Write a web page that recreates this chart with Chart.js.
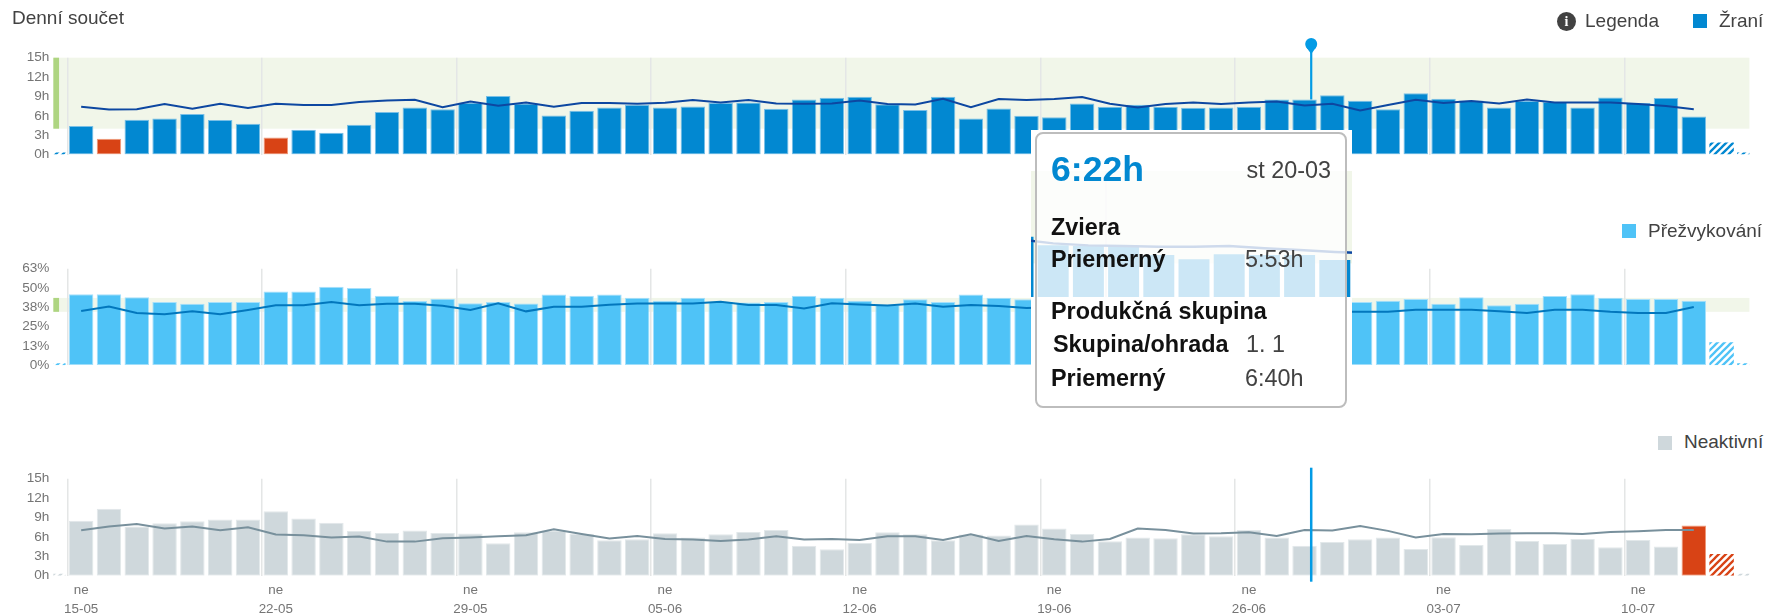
<!DOCTYPE html>
<html>
<head>
<meta charset="utf-8">
<title>Denní součet</title>
<script src="https://cdn.jsdelivr.net/npm/chart.js@4"></script>
<style>
html, body { margin: 0; padding: 0; background: #fff; }
body { width: 1766px; height: 615px; position: relative; overflow: hidden; font-family: "Liberation Sans", Arial, sans-serif; color: #424242; }
canvas { position: absolute; left: 0; }
.txt { position: absolute; white-space: nowrap; font-size: 19px; line-height: 24px; }
.sq { position: absolute; width: 14px; height: 14px; }
#info { position: absolute; left: 1557px; top: 12px; width: 19px; height: 19px; border-radius: 50%; background: #424242; color: #fff; font: bold 14px/19px "Liberation Serif", serif; text-align: center; }
#ghostBox { position: absolute; left: 1031px; top: 130px; width: 321px; height: 240px; background: #fff; overflow: hidden; }
#tip { position: absolute; left: 1035px; top: 132px; width: 308px; height: 272px; border: 2px solid #bdbdbd; border-radius: 8px; background: rgba(255,255,255,0.8); }
#tip div { position: absolute; white-space: nowrap; font-size: 23.4px; line-height: 28px; }
#tip .b { font-weight: bold; color: #111; }
#tip .v { color: #424242; left: 208px; }
</style>
</head>
<body>
<canvas id="chartZrani" width="1766" height="175" style="top:0"></canvas>
<canvas id="chartPrezvykovani" width="1766" height="150" style="top:240px"></canvas>
<canvas id="chartNeaktivni" width="1766" height="155" style="top:460px"></canvas>

<div class="txt" style="left:12px;top:6px">Denní součet</div>
<div id="info">i</div>
<div class="txt" style="left:1585px;top:9px">Legenda</div>
<div class="sq" style="left:1693px;top:14px;background:#0288d1"></div>
<div class="txt" style="left:1719px;top:9px">Žraní</div>
<div class="sq" style="left:1622px;top:224px;background:#4fc3f7"></div>
<div class="txt" style="left:1648px;top:219px">Přežvykování</div>
<div class="sq" style="left:1658px;top:436px;background:#cfd8dc"></div>
<div class="txt" style="left:1684px;top:430px">Neaktivní</div>

<div id="ghostBox"><canvas id="chartGhost" width="360" height="167" style="left:-13px;top:0"></canvas></div>
<div id="tip">
  <div style="left:14px;top:14px;font-size:35.6px;line-height:42px;font-weight:bold;color:#0288d1">6:22h</div>
  <div style="right:14px;top:22px;color:#424242">st 20-03</div>
  <div class="b" style="left:14px;top:79px">Zviera</div>
  <div class="b" style="left:14px;top:111px">Priemerný</div>
  <div class="v" style="top:111px">5:53h</div>
  <div class="b" style="left:14px;top:163px">Produkčná skupina</div>
  <div class="b" style="left:16px;top:196px">Skupina/ohrada</div>
  <div class="v" style="top:196px;left:209px">1. 1</div>
  <div class="b" style="left:14px;top:230px">Priemerný</div>
  <div class="v" style="top:230px">6:40h</div>
</div>

<script>
// first and last entry of each series are the cut-off days at the edges of the plot
var weekLabels = ['15-05', '22-05', '29-05', '05-06', '12-06', '19-06', '26-06', '03-07', '10-07'];
var dayName = 'ne';

var zrani = [0.3, 4.4, 2.43, 5.38, 5.59, 6.26, 5.33, 4.76, 2.64, 3.83, 3.36, 4.6, 6.57, 7.29, 7.03, 8.0, 9.05, 7.9, 6.05, 6.78,
    7.29, 7.7, 7.29, 7.45, 7.97, 8.07, 7.09, 8.53, 8.79, 8.95, 7.8, 6.88, 8.95, 5.59, 7.14, 6.0, 5.79, 7.91, 7.4, 7.7,
    7.4, 7.24, 7.29, 7.4, 8.53, 8.53, 9.2, 8.33, 7.03, 9.5, 8.64, 8.38, 7.29, 8.28, 8.12, 7.29, 8.84, 7.97, 8.74, 5.9, 1.86, 0.3];
var zraniAvg = [null, 7.4, 6.98, 7.03, 7.81, 7.09, 7.86, 7.19, 7.86, 7.66, 7.66, 8.12, 8.38, 8.48, 7.34, 8.22, 7.55, 8.07, 7.4, 7.97,
    7.97, 7.86, 8.02, 8.43, 8.07, 8.43, 7.91, 7.86, 7.91, 8.38, 7.81, 7.76, 8.64, 7.34, 8.59, 8.43, 8.59, 8.9, 7.86, 7.29,
    7.81, 8.07, 7.81, 8.07, 8.22, 7.6, 7.86, 6.83, 7.66, 8.48, 7.97, 8.28, 7.91, 8.53, 8.07, 8.07, 8.07, 7.81, 7.5, 7.03, null, null];

var prezvykovani = [1.3, 45.9, 45.9, 44, 40.9, 39.9, 40.9, 40.9, 47.8, 47.8, 50.9, 50, 45, 41.6, 43.1, 40.1, 40.9, 40, 45.8, 45,
    45.8, 43.7, 41.7, 43.7, 41, 40.7, 40.9, 45, 43.7, 41.7, 39, 42.8, 40.9, 45.8, 43.7, 42.8, 42, 41.5, 43, 42,
    42.5, 41, 43.5, 42, 42.5, 41.5, 41.5, 40.9, 41.8, 42.9, 39.9, 44, 38.8, 39.9, 44.8, 45.9, 43.7, 42.9, 42.9, 41.8, 14.9, 1.3];
var prezvykovaniAvg = [null, 35.1, 38.1, 33.8, 33, 34.9, 33, 35.8, 38.8, 38.8, 40.9, 38.8, 39.9, 39.9, 38.6, 35.8, 40.1, 34.9, 37.9, 37.9,
    39.2, 40, 40, 40, 41.1, 39, 39, 36.8, 40.2, 39.4, 38.7, 40, 37.9, 39, 38.3, 37, 37.5, 36, 36.5, 37,
    35.5, 36, 36.5, 36, 35.5, 36, 34.7, 34.7, 34.7, 36, 36, 36, 34.9, 33.8, 36, 36, 34.7, 33.8, 33.8, 37.7, null, null];

var neaktivni = [0.3, 8.48, 10.34, 7.6, 8.12, 8.43, 8.69, 8.69, 9.98, 8.84, 8.17, 6.93, 6.62, 6.98, 6.62, 6.52, 5.02, 6.72, 7.0, 6.5,
    5.5, 5.64, 6.57, 5.9, 6.41, 6.77, 7.08, 4.65, 4.08, 5.07, 6.72, 6.41, 5.48, 6.36, 6.2, 7.91, 7.29, 6.46, 5.33, 5.9,
    5.79, 6.41, 6.1, 7.08, 5.9, 4.65, 5.22, 5.64, 5.9, 4.14, 5.95, 4.76, 7.24, 5.38, 4.91, 5.69, 4.4, 5.53, 4.5, 7.76, 3.36, 0.3];
var neaktivniAvg = [null, 7.03, 7.6, 8.0, 7.29, 7.6, 7.03, 7.5, 6.36, 6.26, 5.9, 6.05, 5.27, 5.27, 5.79, 5.9, 6.1, 6.26, 7.19, 6.46,
    5.74, 6.15, 5.69, 5.58, 5.38, 5.58, 6.1, 5.58, 5.69, 5.53, 6.1, 6.1, 5.53, 6.41, 5.38, 6.15, 5.64, 5.27, 5.69, 7.29,
    7.08, 6.52, 6.57, 6.72, 6.15, 7.08, 6.98, 7.7, 6.93, 5.9, 6.46, 6.41, 6.52, 6.57, 6.57, 6.46, 6.77, 6.88, 7.08, 7.08, null, null];

// what shows through the tooltip
var ghostBars = [7.18, 6.15, 6.07, 6.07, 5, 4.5, 5.1, 5, 5, 4.4, null];
var ghostAvg = [6.87, 6.39, 6.15, 6.07, 5.99, 5.99, 6.07, 5.8, 5.6, 5.36, 5.2];
var ghostLabels = ['', '', '', 'x', '', '', '', '', '', '', ''];

var zraniAlerts = [2, 8];
var neaktivniAlerts = [59];
var hatchedDays = [0, 60, 61];
var zraniZone = [4, 15];
var prezvykovaniZone = [34.6, 43.6];
var markerIndex = 45.24;

var fontName = '"Liberation Sans", Arial, sans-serif';

var labels = zrani.map(function (v, i) {
    return (i - 1) % 7 === 0 ? weekLabels[(i - 1) / 7] : '';
});

function hatch(color) {
    var c = document.createElement('canvas');
    c.width = 7;
    c.height = 7;
    var g = c.getContext('2d');
    g.strokeStyle = color;
    g.lineWidth = 2.3;
    g.beginPath();
    g.moveTo(-2, 9); g.lineTo(9, -2);
    g.moveTo(-5, 5); g.lineTo(5, -5);
    g.moveTo(2, 12); g.lineTo(12, 2);
    g.stroke();
    return g.createPattern(c, 'repeat');
}

var zonePlugin = {
    id: 'zone',
    beforeDraw: function (chart, args, opts) {
        if (!opts.range) return;
        var ctx = chart.ctx, a = chart.chartArea, y = chart.scales.y;
        var top = y.getPixelForValue(opts.range[1]), bottom = y.getPixelForValue(opts.range[0]);
        ctx.save();
        ctx.fillStyle = '#f1f6e9';
        ctx.fillRect(a.left, top, a.right - a.left, bottom - top);
        if (opts.strip) {
            ctx.fillStyle = '#aed581';
            ctx.fillRect(a.left, top, 5.7, bottom - top);
        }
        ctx.restore();
    }
};

var markerPlugin = {
    id: 'marker',
    afterDatasetsDraw: function (chart, args, opts) {
        if (opts.from === undefined) return;
        var ctx = chart.ctx;
        var x = chart.scales.x.getPixelForValue(markerIndex);
        var to = opts.toValue !== undefined ? chart.scales.y.getPixelForValue(opts.toValue) : opts.to;
        ctx.save();
        ctx.strokeStyle = '#039be5';
        ctx.fillStyle = '#039be5';
        ctx.lineWidth = opts.width;
        ctx.beginPath();
        ctx.moveTo(x, opts.from);
        ctx.lineTo(x, to);
        ctx.stroke();
        if (opts.pin) {
            ctx.beginPath();
            ctx.arc(x, opts.from, 6, 0, Math.PI * 2);
            ctx.fill();
            ctx.beginPath();
            ctx.moveTo(x - 5.5, opts.from + 2.5);
            ctx.lineTo(x + 5.5, opts.from + 2.5);
            ctx.lineTo(x, opts.from + 10);
            ctx.fill();
        }
        ctx.restore();
    }
};

function makePanel(id, cfg) {
    var hatchFill = hatch(cfg.color);
    var hatchAlert = hatch(cfg.hatchColor || cfg.color);
    var isHatched = function (i) { return hatchedDays.indexOf(i) >= 0; };
    var colors = cfg.values.map(function (v, i) {
        if (isHatched(i)) return i === 60 ? hatchAlert : hatchFill;
        return cfg.alerts.indexOf(i) >= 0 ? '#d84315' : cfg.color;
    });
    var borders = cfg.values.map(function (v, i) {
        return cfg.alerts.indexOf(i) >= 0 ? '#ef9a7a' : cfg.edge;
    });
    var borderWidths = cfg.values.map(function (v, i) {
        return isHatched(i) ? 0 : 1;
    });

    return new Chart(document.getElementById(id), {
        type: 'bar',
        plugins: [zonePlugin, markerPlugin],
        data: {
            labels: labels,
            datasets: [{
                type: 'line',
                data: cfg.avg,
                borderColor: cfg.lineColor,
                borderWidth: 2,
                pointRadius: 0,
                tension: 0,
                order: 0
            }, {
                data: cfg.values,
                backgroundColor: colors,
                borderColor: borders,
                borderWidth: borderWidths,
                borderSkipped: false,
                barPercentage: 0.88,
                categoryPercentage: 1,
                order: 1
            }]
        },
        options: {
            responsive: false,
            animation: false,
            devicePixelRatio: 1,
            layout: { padding: { left: 0, right: 16.6, top: cfg.top, bottom: cfg.bottom } },
            plugins: {
                legend: { display: false },
                tooltip: { enabled: false },
                zone: { range: cfg.zone, strip: true },
                marker: cfg.marker || {}
            },
            scales: {
                x: {
                    offset: false,
                    grid: {
                        offset: true,
                        drawTicks: false,
                        lineWidth: 1.5,
                        color: function (c) { return labels[c.index] ? '#e4e6e6' : 'rgba(0,0,0,0)'; }
                    },
                    border: { display: false },
                    ticks: {
                        display: !!cfg.showDates,
                        autoSkip: false,
                        maxRotation: 0,
                        padding: 5,
                        color: '#757575',
                        font: { family: fontName, size: 13.4, lineHeight: 1.43 },
                        callback: function (v, i) { return labels[i] ? [dayName, labels[i]] : ''; }
                    },
                    afterFit: function (s) { s.height = cfg.showDates ? 39.3 : 0; }
                },
                y: {
                    min: 0,
                    max: cfg.max,
                    grid: { display: false, drawTicks: false },
                    border: { display: false },
                    ticks: {
                        stepSize: cfg.step,
                        autoSkip: false,
                        padding: 4,
                        color: '#757575',
                        font: { family: fontName, size: 13.6 },
                        callback: function (v) { return Math.round(v) + cfg.unit; }
                    },
                    afterFit: function (s) { s.width = 53.35; }
                }
            }
        }
    });
}

window.onload = function () {
    makePanel('chartZrani', {
        values: zrani, avg: zraniAvg, alerts: zraniAlerts, zone: zraniZone,
        color: '#0288d1', edge: '#79bfe6', lineColor: '#0d47a1',
        max: 15, step: 3, unit: 'h', top: 57.7, bottom: 20.5,
        marker: { from: 44, toValue: 8.53, width: 2.2, pin: true }
    });
    makePanel('chartPrezvykovani', {
        values: prezvykovani, avg: prezvykovaniAvg, alerts: [], zone: prezvykovaniZone,
        color: '#4fc3f7', edge: '#a6e0fb', lineColor: '#0277bd',
        max: 62.5, step: 12.5, unit: '%', top: 28.7, bottom: 24.7
    });
    makePanel('chartNeaktivni', {
        values: neaktivni, avg: neaktivniAvg, alerts: neaktivniAlerts, zone: null,
        color: '#cfd8dc', edge: '#e2e8ea', hatchColor: '#d84315', lineColor: '#78909c',
        max: 15, step: 3, unit: 'h', top: 18.7, bottom: 0, showDates: true,
        marker: { from: 7.7, to: 121.7, width: 2.5 }
    });

    new Chart(document.getElementById('chartGhost'), {
        type: 'bar',
        plugins: [zonePlugin],
        data: {
            labels: ghostLabels,
            datasets: [{
                type: 'line',
                data: ghostAvg,
                borderColor: '#0d47a1',
                borderWidth: 2.4,
                pointRadius: 0,
                order: 0
            }, {
                data: ghostBars,
                backgroundColor: '#0288d1',
                barPercentage: 0.88,
                categoryPercentage: 1,
                order: 1
            }]
        },
        options: {
            responsive: false,
            animation: false,
            devicePixelRatio: 1,
            layout: { padding: { left: 0, right: 8, top: 41, bottom: 0 } },
            plugins: { legend: { display: false }, tooltip: { enabled: false }, zone: { range: zraniZone } },
            scales: {
                x: {
                    offset: false,
                    grid: {
                        offset: true,
                        drawTicks: false,
                        lineWidth: 2,
                        color: function (c) { return ghostLabels[c.index] ? '#e4e6e6' : 'rgba(0,0,0,0)'; }
                    },
                    border: { display: false },
                    ticks: { display: false },
                    afterFit: function (s) { s.height = 0; }
                },
                y: { min: 0, max: 15, display: false }
            }
        }
    });
};
</script>
</body>
</html>
